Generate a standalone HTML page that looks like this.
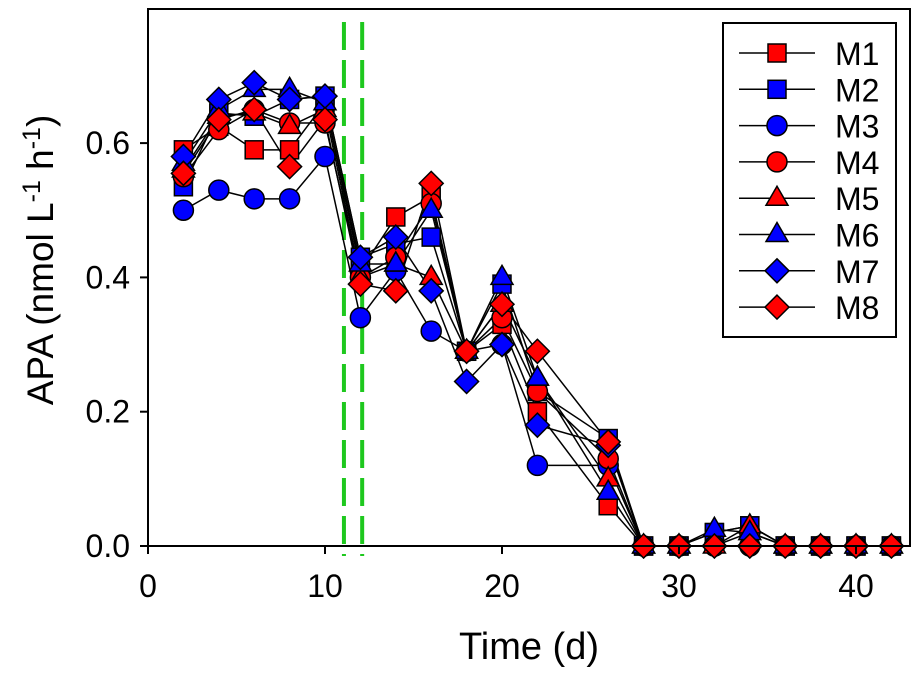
<!DOCTYPE html>
<html><head><meta charset="utf-8"><style>
body{margin:0;background:#fff}
svg{display:block;font-family:"Liberation Sans",Arial,sans-serif}
</style></head><body>
<svg id="c" width="919" height="678"></svg>
<script>
const times=[2,4,6,8,10,12,14,16,18,20,22,26,28,30,32,34,36,38,40,42];
const M1=[0.59,0.625,0.59,0.59,0.66,0.41,0.49,0.52,0.29,0.33,0.20,0.06,0,0,0.02,0.03,0,0,0,0];
const M2=[0.535,0.645,0.64,0.665,0.67,0.43,0.45,0.46,0.29,0.39,0.23,0.16,0,0,0.02,0.03,0,0,0,0];
const M3=[0.50,0.53,0.517,0.517,0.58,0.34,0.41,0.32,0.29,0.30,0.12,0.12,0,0,0,0,0,0,0,0];
const M4=[0.55,0.62,0.65,0.63,0.63,0.40,0.43,0.51,0.29,0.34,0.23,0.13,0,0,0,0.02,0,0,0,0];
const M5=[0.56,0.64,0.645,0.625,0.65,0.40,0.42,0.40,0.29,0.36,0.25,0.10,0,0,0,0.03,0,0,0,0];
const M6=[0.57,0.65,0.68,0.68,0.66,0.42,0.42,0.50,0.29,0.40,0.25,0.08,0,0,0.025,0.02,0,0,0,0];
const M7=[0.58,0.665,0.69,0.665,0.67,0.43,0.46,0.38,0.245,0.30,0.18,0.15,0,0,0,0,0,0,0,0];
const M8=[0.555,0.635,0.65,0.565,0.635,0.39,0.38,0.54,0.29,0.36,0.29,0.155,0,0,0,0,0,0,0,0];
const seriesNames=["M1","M2","M3","M4","M5","M6","M7","M8"];
const xTicks=[0,10,20,30,40];
const yTicks=[0,0.2,0.4,0.6];
const yTickLabels=["0.0","0.2","0.4","0.6"];
const vlines=[11.07,12.1];

const NS="http://www.w3.org/2000/svg";
const svg=document.getElementById('c');
const X0=148,XR=910,YT=9,YB=546;
const xs=v=>X0+v*17.7;
const ys=v=>YB-v*671.5;
function mk(t,a,p){const e=document.createElementNS(NS,t);for(const k in a)e.setAttribute(k,a[k]);(p||svg).appendChild(e);return e;}
const series=[M1,M2,M3,M4,M5,M6,M7,M8];
const shapes=["sq","sq","ci","ci","tr","tr","di","di"];
const cols=["#ff0000","#0000ff","#0000ff","#ff0000","#ff0000","#0000ff","#0000ff","#ff0000"];
function marker(g,s,x,y,c){
  const st={fill:c,stroke:"#000","stroke-width":1.5};
  let e;
  if(s=="sq")e=mk('rect',Object.assign({x:x-9,y:y-9,width:18,height:18},st),g);
  else if(s=="ci")e=mk('circle',Object.assign({cx:x,cy:y,r:10},st),g);
  else if(s=="tr")e=mk('polygon',Object.assign({points:`${x},${y-12} ${x+11},${y+7} ${x-11},${y+7}`},st),g);
  else e=mk('polygon',Object.assign({points:`${x},${y-12} ${x+12},${y} ${x},${y+12} ${x-12},${y}`},st),g);
  return e;
}
vlines.forEach(v=>{const l=mk('line',{x1:xs(v),x2:xs(v),y1:22,y2:556,stroke:"#1ec81e","stroke-width":4,"stroke-dasharray":"28,10"});

});
series.forEach((d,i)=>{
  const g=mk('g',{});
  
  
  mk('polyline',{points:d.map((v,j)=>xs(times[j])+','+ys(v)).join(' '),fill:"none",stroke:"#000","stroke-width":1.5},g);
});
series.forEach((d,i)=>{
  d.forEach((v,j)=>{const m=marker(svg,shapes[i],xs(times[j]),ys(v),cols[i]);
  
  });
});
mk('rect',{x:X0,y:YT,width:XR-X0,height:YB-YT,fill:"none",stroke:"#000","stroke-width":2});
xTicks.forEach(t=>{mk('line',{x1:xs(t),x2:xs(t),y1:YB,y2:YB+8,stroke:"#000","stroke-width":2});
  const tx=mk('text',{x:xs(t),y:YB+51,"text-anchor":"middle","font-size":32});tx.textContent=t;
  
  });
yTicks.forEach((t,i)=>{mk('line',{x1:X0-8,x2:X0,y1:ys(t),y2:ys(t),stroke:"#000","stroke-width":2});
  const tx=mk('text',{x:X0-18,y:ys(t)+11,"text-anchor":"end","font-size":32});tx.textContent=yTickLabels[i];
  
  });
const lg=mk('g',{});


mk('rect',{x:723,y:23,width:173,height:314,fill:"#fff",stroke:"#000","stroke-width":2},lg);
seriesNames.forEach((n,i)=>{const y=53+i*36.3;
  mk('line',{x1:739,x2:815,y1:y,y2:y,stroke:"#000","stroke-width":1.5},lg);
  marker(lg,shapes[i],777,y,cols[i]);
  const t=mk('text',{x:835,y:y+12,"font-size":32},lg);t.textContent=n;
  
  });
</script>
<div style="position:absolute;left:0;top:0;width:919px;height:678px;pointer-events:none">
<div style="position:absolute;left:0;width:1058px;top:626px;text-align:center;font:38px 'Liberation Sans',sans-serif">Time (d)</div>
<div style="position:absolute;left:40px;top:260px;transform:translate(-50%,-50%) rotate(-90deg);white-space:nowrap;font:37px 'Liberation Sans',sans-serif">APA (nmol L<sup style="font-size:25px">-1</sup> h<sup style="font-size:25px">-1</sup>)</div>
</div>
</body></html>
